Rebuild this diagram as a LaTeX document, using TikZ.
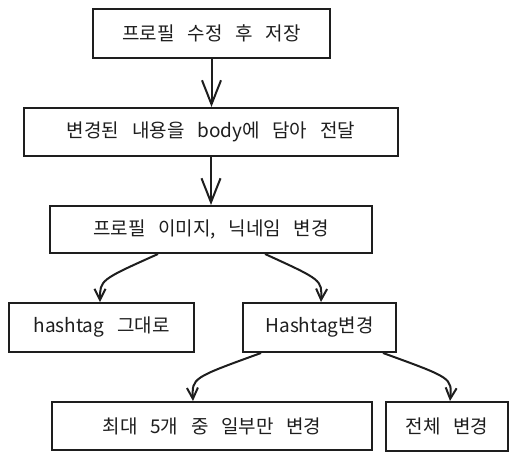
\documentclass[tikz,border=0pt]{standalone}
\usepackage{fontspec}
\setmainfont{Noto Sans CJK KR}[WordSpace=3.0]
\usetikzlibrary{arrows.meta}
\definecolor{ink}{HTML}{1E1E1E}
\tikzset{
  box/.style={draw=ink, line width=2pt, rectangle, inner sep=0pt, text=ink,
              font=\fontsize{19}{21}\selectfont},
  varrow/.style={draw=ink, line width=2pt, -{Straight Barb[length=24pt,width=19pt,line width=2pt]}},
  carrow/.style={draw=ink, line width=2pt, -{Straight Barb[length=11pt,width=11pt,line width=2pt]}},
}
\begin{document}
\begin{tikzpicture}[x=1pt,y=-1pt]
\useasboundingbox (0,0) rectangle (518,460);
\node[box, minimum width=237pt, minimum height=48pt] (b1) at (211.5,33.5) {프로필 수정 후 저장};
\node[box, minimum width=374pt, minimum height=48pt] (b2) at (211,132) {변경된 내용을 body에 담아 전달};
\node[box, minimum width=322pt, minimum height=47pt] (b3) at (211,229.5) {프로필 이미지, 닉네임 변경};
\node[box, minimum width=185pt, minimum height=49pt] (b4) at (101.5,327.5) {hashtag 그대로};
\node[box, minimum width=153pt, minimum height=49pt] (b5) at (319.5,327.5) {Hashtag변경};
\node[box, minimum width=320pt, minimum height=48pt] (b6) at (212,426) {최대 5개 중 일부만 변경};
\node[box, minimum width=122pt, minimum height=49pt] (b7) at (447,426.5) {전체 변경};

\draw[varrow] (b1.south) -- (b1.south |- b2.north);
\draw[varrow] (b2.south) -- (b2.south |- b3.north);
\draw[carrow] ([xshift=-53pt]b3.south) .. controls (100,280) .. ([xshift=-1.5pt]b4.north);
\draw[carrow] ([xshift=54pt]b3.south) .. controls (322,280) .. ([xshift=1.5pt]b5.north);
\draw[carrow] ([xshift=-58.5pt]b5.south) .. controls (192,378) .. ([xshift=-19pt]b6.north);
\draw[carrow] ([xshift=63.5pt]b5.south) .. controls (452,378) .. ([xshift=3pt]b7.north);
\end{tikzpicture}
\end{document}
